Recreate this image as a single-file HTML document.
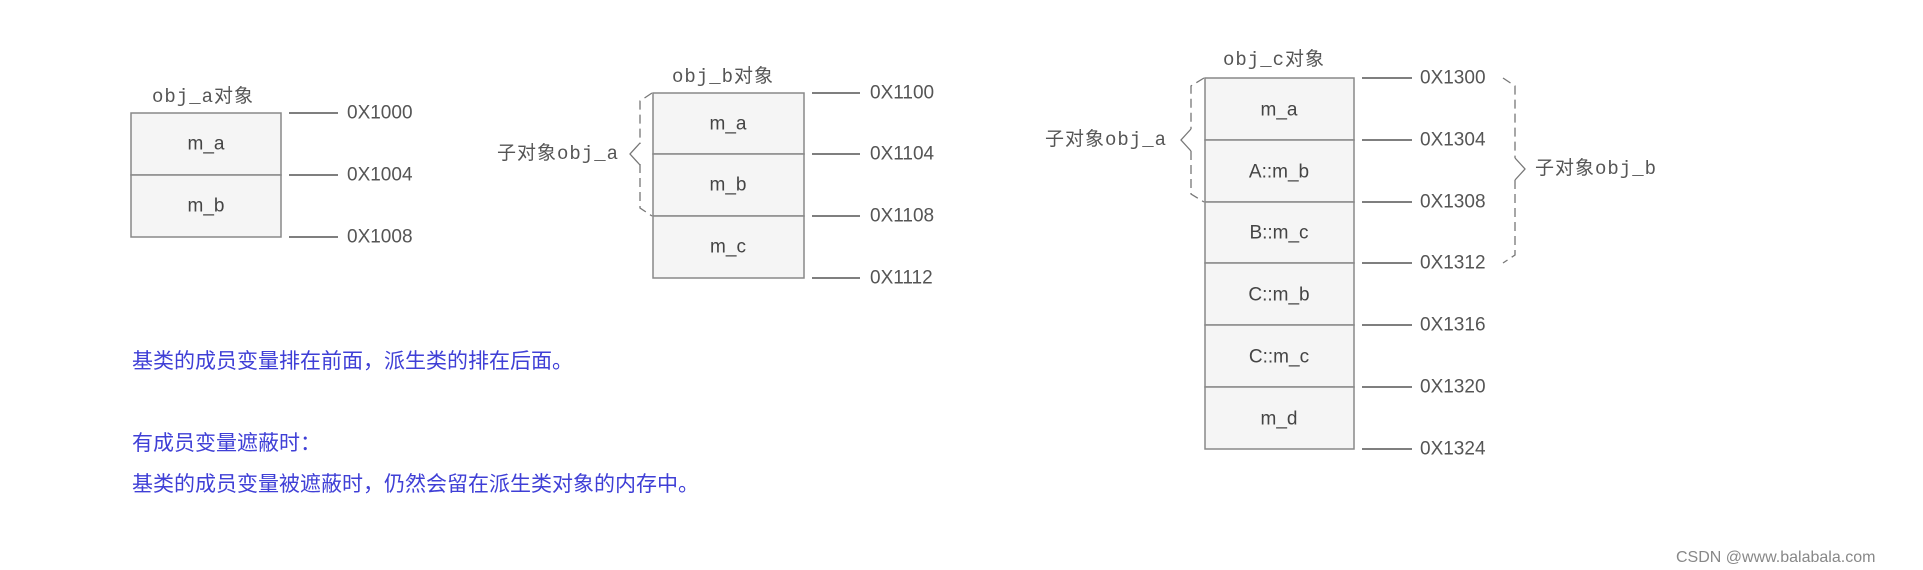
<!DOCTYPE html>
<html><head><meta charset="utf-8"><style>
body{margin:0;background:#fff;width:1923px;height:570px;overflow:hidden}
svg{display:block}
.m{font-family:"Liberation Sans",sans-serif;font-size:19px;fill:#444;text-anchor:middle;dominant-baseline:central}
.ad{font-family:"Liberation Sans",sans-serif;font-size:19px;fill:#555;dominant-baseline:central}
.lb{font-family:"Liberation Mono","Noto Sans CJK SC",monospace;font-size:19px;letter-spacing:1px;fill:#555;dominant-baseline:central}
.bl{font-family:"Liberation Sans","Noto Sans CJK SC",sans-serif;font-size:21px;fill:#3f3fd6}
.box{fill:#f5f5f5;stroke:#888;stroke-width:1.5}
.tk{stroke:#555;stroke-width:1.5}
.br{fill:none;stroke:#777;stroke-width:1.3;stroke-dasharray:9,5}
.bt{fill:none;stroke:#777;stroke-width:1.3}
</style></head><body>
<svg width="1923" height="570" xmlns="http://www.w3.org/2000/svg">
<!-- obj_a -->
<text class="lb" x="152" y="97">obj_a对象</text>
<rect class="box" x="131" y="113" width="150" height="62"/>
<rect class="box" x="131" y="175" width="150" height="62"/>
<text class="m" x="206" y="144">m_a</text>
<text class="m" x="206" y="206">m_b</text>
<line class="tk" x1="289" y1="113" x2="338" y2="113"/><text class="ad" x="347" y="113">0X1000</text>
<line class="tk" x1="289" y1="175" x2="338" y2="175"/><text class="ad" x="347" y="175">0X1004</text>
<line class="tk" x1="289" y1="237" x2="338" y2="237"/><text class="ad" x="347" y="237">0X1008</text>
<!-- obj_b -->
<text class="lb" x="672" y="77">obj_b对象</text>
<rect class="box" x="653" y="93" width="151" height="61"/>
<rect class="box" x="653" y="154" width="151" height="62"/>
<rect class="box" x="653" y="216" width="151" height="62"/>
<text class="m" x="728" y="124">m_a</text>
<text class="m" x="728" y="185">m_b</text>
<text class="m" x="728" y="247">m_c</text>
<line class="tk" x1="812" y1="93" x2="860" y2="93"/><text class="ad" x="870" y="93">0X1100</text>
<line class="tk" x1="812" y1="154" x2="860" y2="154"/><text class="ad" x="870" y="154">0X1104</text>
<line class="tk" x1="812" y1="216" x2="860" y2="216"/><text class="ad" x="870" y="216">0X1108</text>
<line class="tk" x1="812" y1="278" x2="860" y2="278"/><text class="ad" x="870" y="278">0X1112</text>
<path class="br" d="M652 93 L640 101 L640 144"/>
<path class="br" d="M640 164 L640 208 L652 216"/>
<path class="bt" d="M640 143 L630 154 L640 165"/>
<text class="lb" x="497" y="154">子对象obj_a</text>
<!-- obj_c -->
<text class="lb" x="1223" y="60">obj_c对象</text>
<rect class="box" x="1205" y="78" width="149" height="62"/>
<rect class="box" x="1205" y="140" width="149" height="62"/>
<rect class="box" x="1205" y="202" width="149" height="61"/>
<rect class="box" x="1205" y="263" width="149" height="62"/>
<rect class="box" x="1205" y="325" width="149" height="62"/>
<rect class="box" x="1205" y="387" width="149" height="62"/>
<text class="m" x="1279" y="110">m_a</text>
<text class="m" x="1279" y="172">A::m_b</text>
<text class="m" x="1279" y="233">B::m_c</text>
<text class="m" x="1279" y="295">C::m_b</text>
<text class="m" x="1279" y="357">C::m_c</text>
<text class="m" x="1279" y="419">m_d</text>
<g>
<line class="tk" x1="1362" y1="78" x2="1412" y2="78"/><text class="ad" x="1420" y="78">0X1300</text>
<line class="tk" x1="1362" y1="140" x2="1412" y2="140"/><text class="ad" x="1420" y="140">0X1304</text>
<line class="tk" x1="1362" y1="202" x2="1412" y2="202"/><text class="ad" x="1420" y="202">0X1308</text>
<line class="tk" x1="1362" y1="263" x2="1412" y2="263"/><text class="ad" x="1420" y="263">0X1312</text>
<line class="tk" x1="1362" y1="325" x2="1412" y2="325"/><text class="ad" x="1420" y="325">0X1316</text>
<line class="tk" x1="1362" y1="387" x2="1412" y2="387"/><text class="ad" x="1420" y="387">0X1320</text>
<line class="tk" x1="1362" y1="449" x2="1412" y2="449"/><text class="ad" x="1420" y="449">0X1324</text>
</g>
<path class="br" d="M1204 78 L1191 86 L1191 129"/>
<path class="br" d="M1191 151 L1191 194 L1204 202"/>
<path class="bt" d="M1191 129 L1181 140 L1191 151"/>
<text class="lb" x="1045" y="140">子对象obj_a</text>
<path class="br" d="M1503 78 L1515 86 L1515 158"/>
<path class="br" d="M1515 180 L1515 255 L1503 263"/>
<path class="bt" d="M1515 158 L1525 169 L1515 180"/>
<text class="lb" x="1535" y="169">子对象obj_b</text>
<!-- blue text -->
<text class="bl" x="132" y="368">基类的成员变量排在前面，派生类的排在后面。</text>
<text class="bl" x="132" y="450">有成员变量遮蔽时：</text>
<text class="bl" x="132" y="491">基类的成员变量被遮蔽时，仍然会留在派生类对象的内存中。</text>
<text x="1676" y="562" style="font-family:'Liberation Sans',sans-serif;font-size:16px;fill:#888">CSDN @www.balabala.com</text>
</svg>
</body></html>
